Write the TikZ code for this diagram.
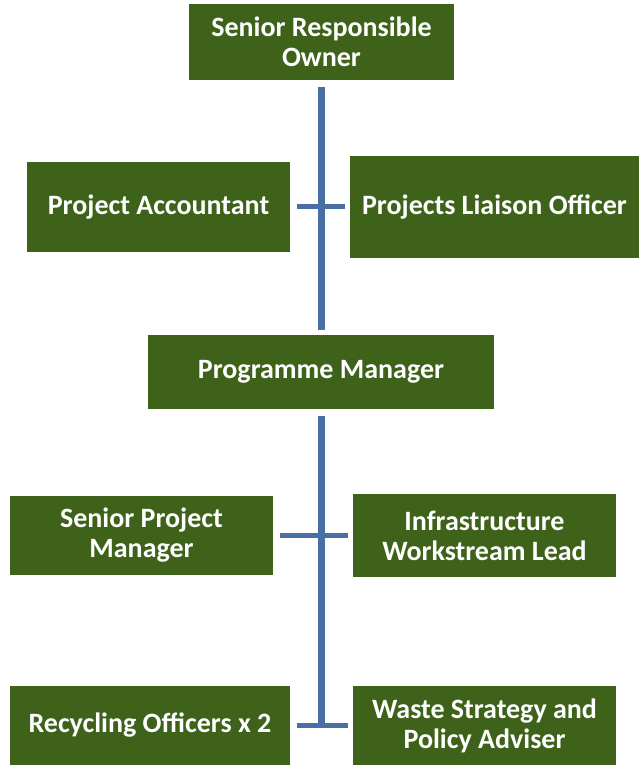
\documentclass[tikz,border=0pt]{standalone}
\usepackage{fontspec}
\setmainfont{Carlito}
\definecolor{boxgreen}{RGB}{62,98,26}
\definecolor{lineblue}{RGB}{74,111,165}
\tikzset{
  role/.style={fill=boxgreen, text=white, font=\bfseries\fontsize{28}{30}\selectfont, align=center, inner sep=0pt},
  link/.style={lineblue, line width=7pt},
  bar/.style={lineblue, line width=5pt, shorten <=7pt, shorten >=5pt}
}
\begin{document}
\begin{tikzpicture}[x=1pt, y=-1pt]
    \useasboundingbox (0, 0) rectangle (639, 767);
    \node [role, minimum width=265, minimum height=76] (sro) at (321.5, 42) {Senior Responsible\\Owner};
    \node [role, minimum width=263, minimum height=90] (acct) at (158.5, 207) {Project Accountant};
    \node [role, minimum width=289, minimum height=102] (liaison) at (494.5, 207) {Projects Liaison Officer};
    \node [role, minimum width=346, minimum height=74] (pm) at (321, 372) {Programme Manager};
    \node [role, minimum width=263, minimum height=79] (spm) at (141.5, 535.5) {Senior Project\\Manager};
    \node [role, minimum width=263, minimum height=83] (iwl) at (484.5, 535.5) {Infrastructure\\Workstream Lead};
    \node [role, minimum width=280, minimum height=79] (rec) at (150, 725.5) {Recycling Officers x 2};
    \node [role, minimum width=263, minimum height=79] (waste) at (484.5, 725.5) {Waste Strategy and\\Policy Adviser};
    \coordinate (join) at (pm.south |- rec.east);
    \draw [link, shorten <=7pt, shorten >=5pt] (sro.south) -- (sro.south |- pm.north);
    \draw [link, shorten <=7pt] (pm.south) -- (join);
    \draw [bar] (acct.east) -- (liaison.west);
    \draw [bar] (spm.east) -- (iwl.west);
    \draw [bar] (rec.east) -- (waste.west);
\end{tikzpicture}
\end{document}
